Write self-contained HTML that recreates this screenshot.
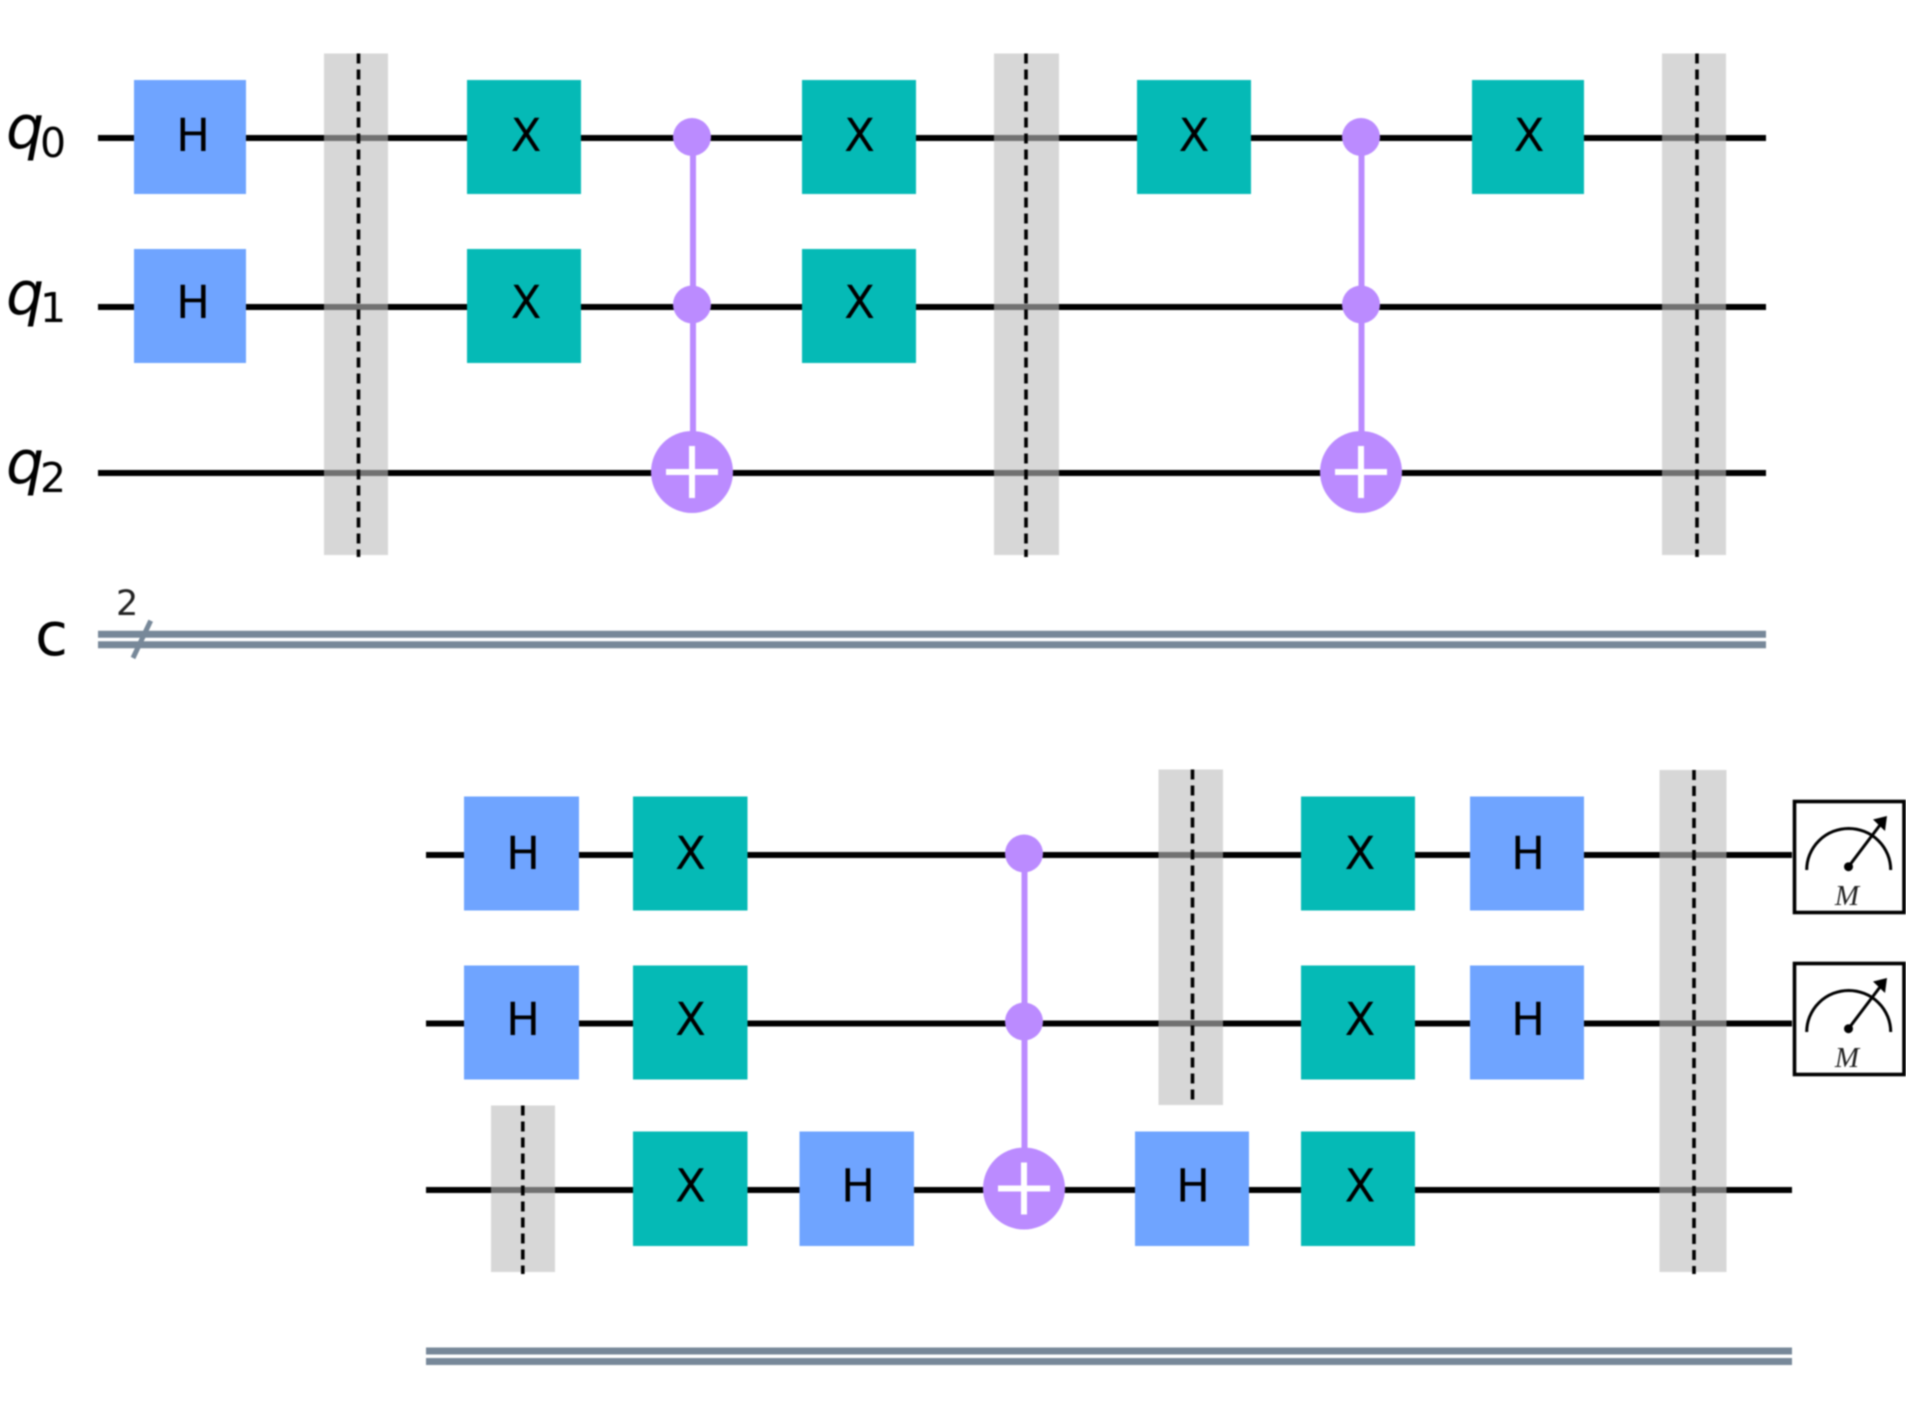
<!DOCTYPE html>
<html>
<head>
<meta charset="utf-8">
<title>Quantum circuit</title>
<style>
html,body{margin:0;padding:0;background:#fff;}
body{width:1906px;height:1404px;overflow:hidden;}
svg{display:block;filter:blur(.9px);}
.w{stroke:#000;stroke-width:6;fill:none;}
.c{stroke:#778899;stroke-width:7;fill:none;}
.h{fill:#6FA4FF;}
.x{fill:#05BAB6;}
.g{font-family:"DejaVu Sans","Liberation Sans",sans-serif;font-size:45px;fill:#000;text-anchor:middle;}
.b{fill:#bdbdbd;fill-opacity:.6;}
.d{stroke:#000;stroke-width:3.6;stroke-dasharray:10 6;fill:none;}
.p{fill:#BB8BFF;}
.l{stroke:#BB8BFF;stroke-width:6;fill:none;}
.t{stroke:#fff;stroke-width:6;fill:none;}
.q{font-family:"DejaVu Sans","Liberation Sans",sans-serif;font-style:italic;font-size:60px;fill:#000;}
.s{font-family:"DejaVu Sans","Liberation Sans",sans-serif;font-size:41px;fill:#000;}
.m{stroke:#000;fill:none;}
.mt{font-family:"Liberation Serif",serif;font-style:italic;font-size:29px;fill:#222;text-anchor:middle;}
</style>
</head>
<body>
<svg width="1906" height="1404" viewBox="0 0 1906 1404" xmlns="http://www.w3.org/2000/svg">
<rect width="1906" height="1404" fill="#fff"/>

<!-- top wires -->
<line class="w" x1="98" y1="138" x2="1766" y2="138"/>
<line class="w" x1="98" y1="307" x2="1766" y2="307"/>
<line class="w" x1="98" y1="473" x2="1766" y2="473"/>
<line class="c" x1="98" y1="634.3" x2="1766" y2="634.3"/>
<line class="c" x1="98" y1="644.7" x2="1766" y2="644.7"/>
<line x1="133" y1="658" x2="150.7" y2="620.7" stroke="#778899" stroke-width="5"/>

<!-- labels -->
<text class="q" x="6" y="148">q</text><text class="s" x="40" y="157">0</text>
<text class="q" x="6" y="314">q</text><text class="s" x="40" y="322">1</text>
<text class="q" x="6" y="483">q</text><text class="s" x="40" y="492">2</text>
<text x="35" y="655" font-family="DejaVu Sans, sans-serif" font-size="60" fill="#000">c</text>
<text x="116" y="615" font-family="DejaVu Sans, sans-serif" font-size="35" fill="#222">2</text>

<!-- top gates -->
<rect class="h" x="134" y="80" width="112" height="114"/>
<text class="g" x="193" y="151">H</text>
<rect class="h" x="134" y="249" width="112" height="114"/>
<text class="g" x="193" y="318">H</text>

<rect class="b" x="324" y="53.5" width="64" height="501.5"/>
<line class="d" x1="358.5" y1="53.5" x2="358.5" y2="557"/>

<rect class="x" x="467" y="80" width="114" height="114"/>
<text class="g" x="526" y="151">X</text>
<rect class="x" x="467" y="249" width="114" height="114"/>
<text class="g" x="526" y="318">X</text>

<line class="l" x1="693" y1="137" x2="693" y2="472"/>
<circle class="p" cx="692" cy="137" r="19"/>
<circle class="p" cx="692" cy="304.5" r="19"/>
<circle class="p" cx="692" cy="472" r="41"/>
<path class="t" d="M666 472H718M692 446V498"/>

<rect class="x" x="802" y="80" width="114" height="114"/>
<text class="g" x="859.5" y="151">X</text>
<rect class="x" x="802" y="249" width="114" height="114"/>
<text class="g" x="859.5" y="318">X</text>

<rect class="b" x="994" y="53.5" width="65" height="501.5"/>
<line class="d" x1="1026" y1="53.5" x2="1026" y2="557"/>

<rect class="x" x="1137" y="80" width="114" height="114"/>
<text class="g" x="1194" y="151">X</text>

<line class="l" x1="1361.5" y1="137" x2="1361.5" y2="472"/>
<circle class="p" cx="1361" cy="137" r="19"/>
<circle class="p" cx="1361" cy="304.5" r="19"/>
<circle class="p" cx="1361" cy="472" r="41"/>
<path class="t" d="M1335 472H1387M1361 446V498"/>

<rect class="x" x="1472" y="80" width="112" height="114"/>
<text class="g" x="1529" y="151">X</text>

<rect class="b" x="1662" y="53.5" width="64" height="501.5"/>
<line class="d" x1="1697" y1="53.5" x2="1697" y2="557"/>

<!-- bottom wires -->
<line class="w" x1="426" y1="855" x2="1792" y2="855"/>
<line class="w" x1="426" y1="1023.5" x2="1792" y2="1023.5"/>
<line class="w" x1="426" y1="1190" x2="1792" y2="1190"/>
<line class="c" x1="426" y1="1351" x2="1792" y2="1351"/>
<line class="c" x1="426" y1="1361.5" x2="1792" y2="1361.5"/>

<!-- bottom gates -->
<rect class="h" x="464" y="796.5" width="115" height="114"/>
<text class="g" x="523" y="869">H</text>
<rect class="h" x="464" y="965.5" width="115" height="114"/>
<text class="g" x="523" y="1035">H</text>

<rect class="b" x="491" y="1105.5" width="64" height="166.5"/>
<line class="d" x1="522.8" y1="1105.5" x2="522.8" y2="1274"/>

<rect class="x" x="633" y="796.5" width="114.5" height="114"/>
<text class="g" x="690.5" y="869">X</text>
<rect class="x" x="633" y="965.5" width="114.5" height="114"/>
<text class="g" x="690.5" y="1035">X</text>
<rect class="x" x="633" y="1131.5" width="114.5" height="114.5"/>
<text class="g" x="690.5" y="1201.5">X</text>

<rect class="h" x="799.5" y="1131.5" width="114.5" height="114.5"/>
<text class="g" x="858" y="1201.5">H</text>

<line class="l" x1="1024.5" y1="853.5" x2="1024.5" y2="1189"/>
<circle class="p" cx="1024" cy="853.5" r="19"/>
<circle class="p" cx="1024" cy="1021.5" r="19"/>
<circle class="p" cx="1024" cy="1188.5" r="41"/>
<path class="t" d="M998 1188.5H1050M1024 1162.5V1214.5"/>

<rect class="b" x="1158.5" y="769.5" width="64.5" height="335.5"/>
<line class="d" x1="1192.5" y1="769.5" x2="1192.5" y2="1105"/>

<rect class="h" x="1135" y="1131.5" width="114" height="114.5"/>
<text class="g" x="1193" y="1201.5">H</text>

<rect class="x" x="1301" y="796.5" width="114" height="114"/>
<text class="g" x="1360" y="869">X</text>
<rect class="x" x="1301" y="965.5" width="114" height="114"/>
<text class="g" x="1360" y="1035">X</text>
<rect class="x" x="1301" y="1131.5" width="114" height="114.5"/>
<text class="g" x="1360" y="1201.5">X</text>

<rect class="h" x="1470" y="796.5" width="114" height="114"/>
<text class="g" x="1528" y="869">H</text>
<rect class="h" x="1470" y="965.5" width="114" height="114"/>
<text class="g" x="1528" y="1035">H</text>

<rect class="b" x="1659.5" y="770" width="67" height="502"/>
<line class="d" x1="1694" y1="770" x2="1694" y2="1274"/>

<!-- meters -->
<rect x="1794.5" y="801.5" width="109.5" height="111" fill="#fff" stroke="#000" stroke-width="3.6"/>
<path class="m" stroke-width="3" d="M1806.7 870A42 41.5 0 0 1 1890.7 870"/>
<line class="m" stroke-width="3" x1="1848.5" y1="866.7" x2="1880" y2="825"/>
<circle cx="1848.5" cy="866.7" r="4.5" fill="#000"/>
<polygon points="1887,816 1873,819.5 1885,831" fill="#000"/>
<text class="mt" x="1847" y="905">M</text>

<rect x="1794.5" y="963.5" width="109.5" height="111" fill="#fff" stroke="#000" stroke-width="3.6"/>
<path class="m" stroke-width="3" d="M1806.7 1032A42 41.5 0 0 1 1890.7 1032"/>
<line class="m" stroke-width="3" x1="1848.5" y1="1028.7" x2="1880" y2="987"/>
<circle cx="1848.5" cy="1028.7" r="4.5" fill="#000"/>
<polygon points="1887,978 1873,981.5 1885,993" fill="#000"/>
<text class="mt" x="1847" y="1067">M</text>
</svg>
</body>
</html>
